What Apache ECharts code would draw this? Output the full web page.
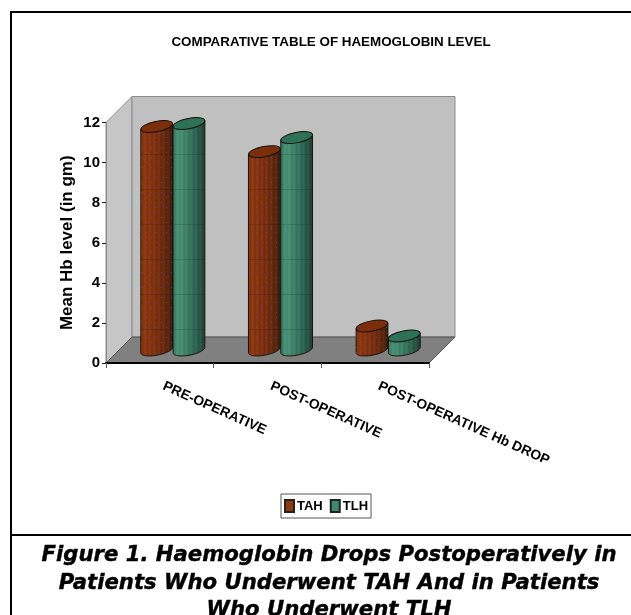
<!DOCTYPE html>
<html>
<head>
<meta charset="utf-8">
<style>
  html, body { margin: 0; padding: 0; background: #fff; overflow: hidden; }
  #chart { width: 631px; height: 615px; }
</style>
<script src="https://cdn.jsdelivr.net/npm/echarts@6/dist/echarts.min.js"></script>
</head>
<body>
<div id="chart"></div>
<script>
  const categories = ['PRE-OPERATIVE', 'POST-OPERATIVE', 'POST-OPERATIVE Hb DROP'];
  const tahValues = [11.15, 9.9, 1.2];
  const tlhValues = [11.3, 10.6, 0.7];
  const yTicks = [0, 2, 4, 6, 8, 10, 12];

  const chartTitle = 'COMPARATIVE TABLE OF HAEMOGLOBIN LEVEL';
  const yAxisName = 'Mean Hb level (in gm)';
  const caption = 'Figure 1. Haemoglobin Drops Postoperatively in\nPatients Who Underwent TAH And in Patients\nWho Underwent TLH';

  const sans = '"Liberation Sans", Arial, sans-serif';
  const DEPTH = 26;            // 3d offset of the back wall in px
  const TILT = 11 * Math.PI / 180;

  // texture laid over the cylinders: thin dark rows, and dots for TAH
  function texture(dotColor) {
    const c = document.createElement('canvas');
    c.width = 10; c.height = 35;
    const g = c.getContext('2d');
    g.fillStyle = 'rgba(0,0,0,0.14)';
    g.fillRect(0, 14, 10, 1);
    if (dotColor) {
      g.fillStyle = dotColor;
      for (let y = 2; y < 35; y += 5) {
        g.fillRect(y % 2 ? 1 : 6, y, 1, 1);
      }
    }
    return c;
  }
  const tahTexture = texture('rgba(70,80,190,0.7)');
  const tlhTexture = texture(null);

  // horizontal shading with fine vertical stripes
  function shading(stops) {
    const out = [];
    const n = 14;
    for (let i = 0; i <= n; i++) {
      const p = i / n;
      let k = 0;
      while (k < stops.length - 2 && stops[k + 1][0] < p) k++;
      const a = stops[k], b = stops[k + 1];
      const t = Math.min(1, Math.max(0, (p - a[0]) / (b[0] - a[0])));
      const col = [0, 1, 2].map(j => Math.round(a[1][j] + (b[1][j] - a[1][j]) * t) + (i % 2 ? -8 : 6));
      out.push({ offset: p, color: 'rgb(' + col.join(',') + ')' });
    }
    return { type: 'linear', x: 0, y: 0, x2: 1, y2: 0, colorStops: out };
  }
  const tahFill = shading([[0, [142, 58, 20]], [0.35, [134, 52, 16]], [0.7, [108, 44, 16]], [1, [66, 32, 16]]]);
  const tlhFill = shading([[0, [58, 128, 104]], [0.2, [76, 146, 120]], [0.6, [52, 112, 92]], [1, [34, 66, 56]]]);

  function ellipsePoint(cx, cy, a, b, t) {
    return [
      cx + a * Math.cos(t) * Math.cos(TILT) + b * Math.sin(t) * Math.sin(TILT),
      cy - a * Math.cos(t) * Math.sin(TILT) + b * Math.sin(t) * Math.cos(TILT)
    ];
  }

  function cylinder(side, fill, topFill, tex) {
    return function (params, api) {
      const i = api.value(0);
      const base = api.coord([i, 0]);
      const top = api.coord([i, api.value(1)]);
      const band = api.size([1, 0])[0];
      const a = band * 0.15, b = band * 0.048;
      const cx = base[0] + DEPTH / 2 + side * a;
      const by = base[1] - DEPTH / 2, ty = top[1] - DEPTH / 2;
      const t0 = Math.atan2(b * Math.sin(TILT), a * Math.cos(TILT));
      const pts = [ellipsePoint(cx, ty, a, b, t0)];
      for (let k = 0; k <= 24; k++) {
        pts.push(ellipsePoint(cx, by, a, b, t0 + Math.PI * k / 24));
      }
      pts.push(ellipsePoint(cx, ty, a, b, t0 + Math.PI));
      return {
        type: 'group',
        children: [
          { type: 'polygon', shape: { points: pts }, style: { fill: fill, stroke: '#1a120c', lineWidth: 1 } },
          { type: 'polygon', shape: { points: pts }, style: { fill: { image: tex, repeat: 'repeat' }, stroke: null } },
          {
            type: 'ellipse',
            shape: { cx: cx, cy: ty, rx: a, ry: b },
            rotation: TILT,
            originX: cx,
            originY: ty,
            style: { fill: topFill, stroke: '#14100c', lineWidth: 1 }
          }
        ]
      };
    };
  }

  // back wall, side wall and floor, hung on the grid rectangle
  function renderWalls(params) {
    const r = params.coordSys;
    const x0 = r.x, x1 = r.x + r.width, y0 = r.y, y1 = r.y + r.height;
    const d = DEPTH;
    return {
      type: 'group',
      children: [
        {
          type: 'polygon',
          shape: { points: [[x0, y0], [x0 + d, y0 - d], [x0 + d, y1 - d], [x0, y1]] },
          style: { fill: '#c6c6c6', stroke: '#8c8c8c', lineWidth: 1 }
        },
        {
          type: 'polygon',
          shape: { points: [[x0 + d, y0 - d], [x1 + d, y0 - d], [x1 + d, y1 - d], [x0 + d, y1 - d]] },
          style: { fill: '#c0c0c0', stroke: '#8c8c8c', lineWidth: 1 }
        },
        {
          type: 'polygon',
          shape: { points: [[x0, y1], [x0 + d, y1 - d], [x1 + d, y1 - d], [x1, y1]] },
          style: { fill: '#808080', stroke: '#555', lineWidth: 1 }
        }
      ]
    };
  }

  const myChart = echarts.init(document.getElementById('chart'), null, { renderer: 'canvas' });
  const option = {
    animation: false,
    backgroundColor: '#fff',
    title: [
      {
        text: chartTitle,
        left: 326, top: 31, textAlign: 'center',
        textStyle: { fontFamily: sans, fontSize: 13.4, fontWeight: 'bold', color: '#000' }
      },
      {
        text: caption,
        left: 324, top: 537, textAlign: 'center',
        textStyle: {
          fontFamily: '"DejaVu Sans"', fontSize: 21.2, fontWeight: 'bold', fontStyle: 'italic',
          color: '#000', lineHeight: 27.5,
          textBorderColor: '#000', textBorderWidth: 0.4
        }
      }
    ],
    legend: {
      data: ['TAH', 'TLH'],
      left: 281, top: 494,
      padding: [5, 3, 5, 3],
      itemWidth: 9, itemHeight: 12, itemGap: 7,
      icon: 'rect',
      borderColor: '#555', borderWidth: 1,
      backgroundColor: '#fff',
      textStyle: { fontFamily: sans, fontSize: 13, fontWeight: 'bold', color: '#000', padding: [0, 0, 0, -2] }
    },
    grid: { left: 106, top: 122.5, width: 323, height: 240.5 },
    xAxis: {
      type: 'category',
      data: categories,
      z: 5,
      axisLine: { lineStyle: { color: '#000', width: 2 } },
      axisTick: { show: true, alignWithLabel: false, length: 5, lineStyle: { color: '#555' } },
      axisLabel: {
        rotate: -24, margin: 21, interval: 0, padding: [0, 0, 0, 4],
        fontFamily: sans, fontSize: 13.8, fontWeight: 'bold', color: '#000'
      }
    },
    yAxis: {
      type: 'value',
      min: yTicks[0], max: yTicks[yTicks.length - 1], interval: 2,
      name: yAxisName,
      nameLocation: 'middle',
      nameMoveOverlap: false,
      nameGap: 30,
      nameRotate: 90,
      nameTextStyle: { fontFamily: sans, fontSize: 17, fontWeight: 'bold', color: '#000' },
      z: 5,
      splitLine: { show: false },
      axisLine: { show: true, lineStyle: { color: '#888' } },
      axisTick: { show: true, length: 4, lineStyle: { color: '#222' } },
      axisLabel: { margin: 6, fontFamily: sans, fontSize: 15, fontWeight: 'bold', color: '#000' }
    },
    graphic: [
      { type: 'rect', shape: { x: 10, y: 11, width: 621, height: 2 }, style: { fill: '#000' } },
      { type: 'rect', shape: { x: 10, y: 11, width: 2, height: 604 }, style: { fill: '#000' } },
      { type: 'rect', shape: { x: 10, y: 534, width: 621, height: 2 }, style: { fill: '#000' } }
    ],
    series: [
      { name: 'walls', type: 'custom', silent: true, z: 1, data: [[0, 0]], encode: { x: 0, y: 1 }, renderItem: renderWalls },
      {
        name: 'TAH', type: 'custom', z: 3,
        itemStyle: { color: '#8f3a0e', borderColor: '#222', borderWidth: 1 },
        data: tahValues.map((v, i) => [i, v]),
        encode: { x: 0, y: 1 },
        renderItem: cylinder(-1, tahFill, '#7a2e0a', tahTexture)
      },
      {
        name: 'TLH', type: 'custom', z: 4,
        itemStyle: { color: '#3c8a70', borderColor: '#222', borderWidth: 1 },
        data: tlhValues.map((v, i) => [i, v]),
        encode: { x: 0, y: 1 },
        renderItem: cylinder(1, tlhFill, '#2f7059', tlhTexture)
      }
    ]
  };
  myChart.setOption(option);
</script>
</body>
</html>
